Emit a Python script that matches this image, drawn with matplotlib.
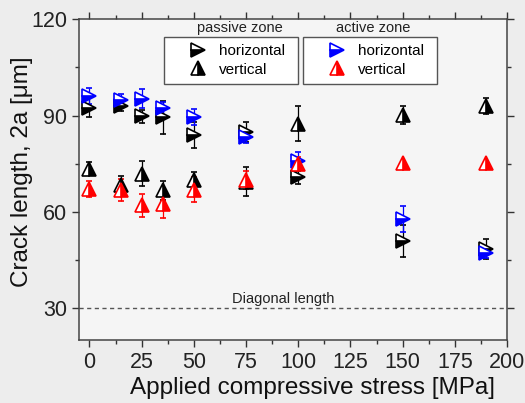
import numpy as np
import matplotlib.pyplot as plt

plt.rcParams['font.family'] = ['Liberation Sans', 'DejaVu Sans']

# tensão de compressão aplicada [MPa]
stress = [0, 15, 25, 35, 50, 75, 100, 150, 190]

# zona passiva
pas_h = [92.5, 92.9, 89.8, 89.4, 83.9, 84.9, 70.8, 51.0, 48.4]
pas_h_err = [3.0, 1.5, 2.0, 5.0, 4.0, 3.0, 2.0, 5.0, 3.0]
pas_v = [73.4, 68.2, 71.9, 66.7, 69.8, 69.3, 87.5, 90.1, 92.9]
pas_v_err = [2.0, 3.0, 4.0, 3.0, 2.6, 4.5, 5.5, 2.8, 2.5]

# zona ativa
act_h = [96.0, 94.8, 95.3, 92.2, 89.6, 83.3, 75.8, 57.8, 47.2]
act_h_err = [2.5, 2.0, 3.0, 2.0, 2.5, 2.0, 2.8, 4.0, 1.5]
act_v = [67.2, 66.7, 62.0, 62.5, 66.9, 69.8, 75.0, 75.2, 75.2]
act_v_err = [2.5, 3.5, 3.5, 4.5, 3.8, 2.8, 2.0, 0.0, 0.0]

diagonal = 30

fig = plt.figure(figsize=(5.25, 4.03), dpi=100, facecolor='#ededed')
ax = fig.add_axes([0.1505, 0.1563, 0.8152, 0.7957], facecolor='#f5f5f5')


def serie(y, err, cor, marcador, preench):
    cont = ax.errorbar(stress, y, yerr=err, fmt=marcador, ms=10, mew=1.2,
                       color=cor, mec=cor, mfc=cor, fillstyle=preench,
                       markerfacecoloralt='white', ecolor=cor, elinewidth=0.9,
                       capsize=2.5, capthick=0.9, zorder=3)
    return cont[0]


l_ph = serie(pas_h, pas_h_err, 'black', '>', 'bottom')
l_pv = serie(pas_v, pas_v_err, 'black', '^', 'right')
l_ah = serie(act_h, act_h_err, 'blue', '>', 'bottom')
l_av = serie(act_v, act_v_err, 'red', '^', 'right')

ax.axhline(diagonal, color='#555555', lw=1.0, ls=(0, (3, 2.5)), zorder=1)
ax.text(93, diagonal + 0.6, 'Diagonal length', fontsize=10.5, ha='center',
        va='bottom', color='#222222')

ax.set_xlim(-5, 200)
ax.set_ylim(20, 120)
ax.set_xticks(np.arange(0, 201, 25))
ax.set_xticks(np.arange(0, 201, 12.5), minor=True)
ax.set_yticks([30, 60, 90, 120])
ax.set_yticks([45, 75, 105], minor=True)
ax.tick_params(which='both', direction='out', top=True, right=True,
               labelsize=15.5, colors='#333333', labelcolor='#222222')
ax.tick_params(which='major', length=5, width=1)
ax.tick_params(which='minor', length=3, width=1)
for s in ax.spines.values():
    s.set_color('#444444')
    s.set_linewidth(1.1)

ax.set_xlabel('Applied compressive stress [MPa]', fontsize=17.5, color='#111111')
ax.set_ylabel('Crack length, 2a [μm]', fontsize=17.5, color='#111111')
ax.xaxis.set_label_coords(0.545, -0.115)
ax.yaxis.set_label_coords(-0.108, 0.524)

opts = dict(loc='upper left', mode='expand', fontsize=11, numpoints=1,
            handlelength=3.48, handletextpad=-0.36, borderpad=0.48,
            labelspacing=0.28, fancybox=False, framealpha=1,
            edgecolor='#555555', facecolor='white', borderaxespad=0)
leg1 = ax.legend([l_ph, l_pv], ['horizontal', 'vertical'],
                 bbox_to_anchor=(0.199, 0.798, 0.313, 0.147), **opts)
leg1.get_frame().set_linewidth(1.0)
ax.add_artist(leg1)
leg2 = ax.legend([l_ah, l_av], ['horizontal', 'vertical'],
                 bbox_to_anchor=(0.523, 0.798, 0.313, 0.147), **opts)
leg2.get_frame().set_linewidth(1.0)

ax.text(0.3765, 0.972, 'passive zone', transform=ax.transAxes, fontsize=10.5,
        ha='center', va='center', color='#222222')
ax.text(0.687, 0.972, 'active zone', transform=ax.transAxes, fontsize=10.5,
        ha='center', va='center', color='#222222')

fig.savefig('out.png', dpi=100, facecolor=fig.get_facecolor())
